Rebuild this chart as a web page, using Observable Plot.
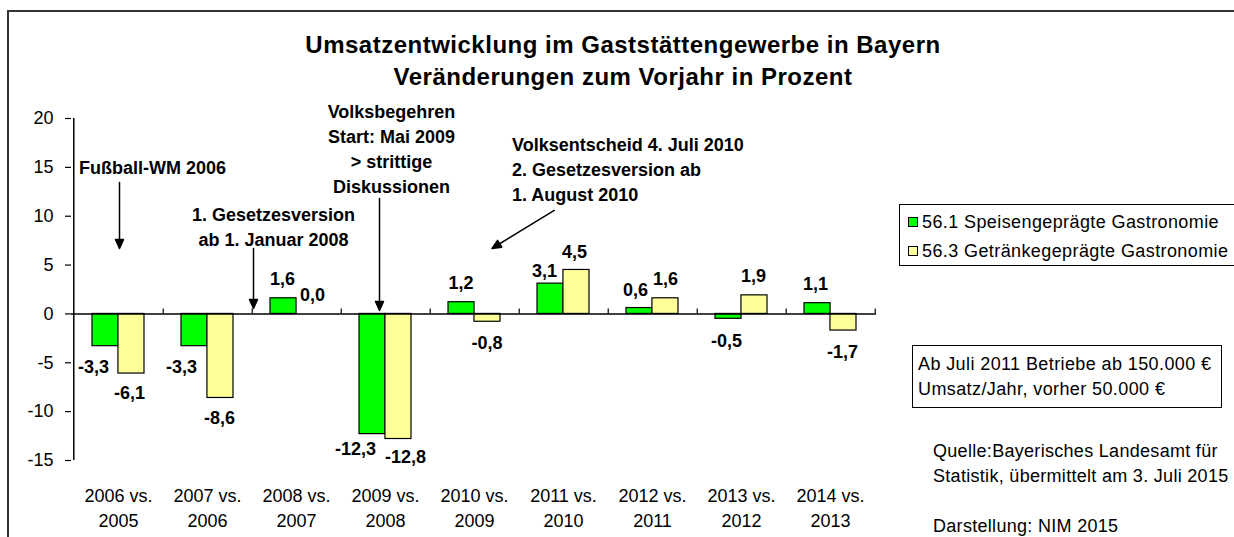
<!DOCTYPE html>
<html><head><meta charset="utf-8">
<script src="https://cdn.jsdelivr.net/npm/d3@7"></script>
<script src="https://cdn.jsdelivr.net/npm/@observablehq/plot@0.6"></script>
<style>
body{margin:0;background:#fff;font-family:"Liberation Sans",Arial,sans-serif;color:#000}
#wrap{position:relative;width:1234px;height:537px;overflow:hidden;background:#fff}
#chart{position:absolute;left:0;top:0}
#frame{position:absolute;left:7px;top:10px;width:1300px;height:600px;border:2px solid #333;pointer-events:none}
#title{position:absolute;left:0;top:29px;width:1246px;text-align:center;font-weight:bold;font-size:24px;line-height:32px;letter-spacing:0.5px}
#legend{position:absolute;left:899px;top:204px;width:400px;height:60px;border:1.5px solid #000}
.lrow{position:absolute;left:908px;height:24px;line-height:24px;font-size:18px;letter-spacing:0.4px;white-space:nowrap}
.sw{display:inline-block;width:8px;height:8px;border:1px solid #000;margin-right:4px;vertical-align:1px}
#note{position:absolute;left:912px;top:345px;width:303px;height:55px;border:1.5px solid #000;padding:6px 0 0 5px;line-height:25px;font-size:18px;letter-spacing:0.4px;white-space:nowrap}
#source{position:absolute;left:933px;top:439px;line-height:25px;font-size:18px;letter-spacing:0.3px;white-space:nowrap}
</style></head>
<body>
<div id="wrap">
  <div id="chart"></div>
  <div id="title"></div>
  <div id="legend"></div>
  <div id="note"></div>
  <div id="source"></div>
  <div id="frame"></div>
</div>
<script>
// ---- data ----
const categories = ["2006 vs.\n2005","2007 vs.\n2006","2008 vs.\n2007","2009 vs.\n2008","2010 vs.\n2009","2011 vs.\n2010","2012 vs.\n2011","2013 vs.\n2012","2014 vs.\n2013"];
const seriesNames = ["56.1 Speisengeprägte Gastronomie","56.3 Getränkegeprägte Gastronomie"];
const speisen   = [-3.3, -3.3, 1.6, -12.3, 1.2, 3.1, 0.6, -0.5, 1.1];
const getraenke = [-6.1, -8.6, 0.0, -12.8, -0.8, 4.5, 1.6, 1.9, -1.7];
const seriesColors = ["#00ff00", "#ffff99"];
const yTicks = [-15, -10, -5, 0, 5, 10, 15, 20];
const titleLines = ["Umsatzentwicklung im Gaststättengewerbe in Bayern", "Veränderungen zum Vorjahr in Prozent"];
const noteLines = ["Ab Juli 2011 Betriebe ab 150.000 €", "Umsatz/Jahr, vorher 50.000 €"];
const sourceLines = ["Quelle:Bayerisches Landesamt für", "Statistik, übermittelt am 3. Juli 2015", "", "Darstellung: NIM 2015"];
// annotations (category index, value, text)
const annotationTexts = [
  {i: 0, y: 15.1, text: "Fußball-WM 2006", dx: 34, anchor: "middle"},
  {i: 2, y: 9.0,  text: "1. Gesetzesversion\nab 1. Januar 2008", dx: -23, anchor: "middle"},
  {i: 3, y: 17.0, text: "Volksbegehren\nStart: Mai 2009\n> strittige\nDiskussionen", dx: 6, anchor: "middle"},
  {i: 4, y: 14.9, text: "Volksentscheid 4. Juli 2010\n2. Gesetzesversion ab\n1. August 2010", dx: 37.5, anchor: "start"}
];
const annotationArrows = [
  {i: 0, y: 6.7,  dx: 1,    len: 66,  rot: 180},
  {i: 2, y: 0.55, dx: -43,  len: 60,  rot: 180},
  {i: 3, y: 0.35, dx: -6,   len: 112, rot: 180},
  {i: 4, y: 6.7,  dx: 17.5, len: 73,  rot: 238.5}
];

// ---- layout ----
const W = 1234, H = 537, mL = 71, mR = 358, mT = 118, mB = 77;
const step = (W - mL - mR) / categories.length;
const padInner = 0.42;
const half = step * (1 - padInner) / 2;
// value-label nudges (pixels, relative to the category centre / bar end)
const greenLabelDx  = [-25, -26, -14, -30, -13.5, -19, -17, -15, -15];
const greenLabelDy  = [21, 21, -19, 15.5, -19, -12, -17.5, 22, -19];
const yellowLabelDx = [11, 12, 16, 20, 12.5, 11, 13, 12, 12];
const yellowLabelDy = [20, 20.5, -19, 18.5, 21, -17.5, -19, -19, 22];
const fmt = v => v.toFixed(1).replace(".", ",");

const rows = categories.flatMap((c, i) => [
  {cat: c, s: 0, v: speisen[i]},
  {cat: c, s: 1, v: getraenke[i]}
]);
const g = rows.filter(d => d.s === 0), y = rows.filter(d => d.s === 1);

const arrowShape = {
  draw(context, l) {
    const h = 9, w = 4;
    context.moveTo(0, 0);
    context.lineTo(0, -l + h);
    context.moveTo(-w, -l + h);
    context.lineTo(0, -l);
    context.lineTo(w, -l + h);
    context.closePath();
  }
};

const labelStyle = {fontSize: 18, fontWeight: "bold", fill: "black"};

const plot = Plot.plot({
  width: W, height: H,
  marginLeft: mL, marginRight: mR, marginTop: mT, marginBottom: mB,
  style: {fontFamily: "'Liberation Sans', Arial, sans-serif", fontSize: "18px", color: "black", background: "transparent", overflow: "visible"},
  x: {domain: categories, type: "band", paddingInner: padInner, paddingOuter: padInner / 2, axis: null},
  y: {domain: [-15, 20], axis: null},
  marks: [
    Plot.barY(g, {x: "cat", y: "v", fill: seriesColors[0], stroke: "black", strokeWidth: 1.2, insetRight: half}),
    Plot.barY(y, {x: "cat", y: "v", fill: seriesColors[1], stroke: "black", strokeWidth: 1.2, insetLeft: half}),
    Plot.ruleY([0], {stroke: "black", strokeWidth: 1.5}),
    Plot.ruleX([categories[0]], {dx: -step / 2, y1: -15, y2: 20, stroke: "black", strokeWidth: 1.5}),
    Plot.ruleX(categories, {dx: step / 2, y1: 0, y2: 0.5, stroke: "black", strokeWidth: 1.2}),
    Plot.axisY({ticks: yTicks, tickSize: 6, tickPadding: 12, tickFormat: d => String(d), fontSize: 18, label: null, stroke: "black", strokeWidth: 1.2}),
    Plot.axisX({anchor: "bottom", tickSize: 0, tickPadding: 24, fontSize: 18, lineHeight: 25 / 18, label: null}),
    // value labels
    ...g.map((d, i) => Plot.text([d], {x: "cat", y: "v", text: r => fmt(r.v), dx: greenLabelDx[i], dy: greenLabelDy[i], ...labelStyle})),
    ...y.map((d, i) => Plot.text([d], {x: "cat", y: "v", text: r => fmt(r.v), dx: yellowLabelDx[i], dy: yellowLabelDy[i], ...labelStyle})),
    // annotations
    ...annotationTexts.map(a => Plot.text([a], {x: d => categories[d.i], y: "y", text: "text", dx: a.dx, textAnchor: a.anchor, lineHeight: 25 / 18, ...labelStyle})),
    ...annotationArrows.map(a => Plot.vector([a], {x: d => categories[d.i], y: "y", dx: a.dx, length: a.len, rotate: a.rot, anchor: "end", shape: arrowShape, fill: "black", stroke: "black", strokeWidth: 1.5}))
  ]
});
document.getElementById("chart").appendChild(plot);

document.getElementById("title").innerHTML = titleLines.join("<br>");
const wrap = document.getElementById("wrap");
seriesNames.forEach((name, k) => {
  const row = document.createElement("div");
  row.className = "lrow";
  row.style.top = (222 + k * 29 - 12) + "px";
  row.innerHTML = `<span class="sw" style="background:${seriesColors[k]}"></span>${name}`;
  wrap.appendChild(row);
});
document.getElementById("note").innerHTML = noteLines.join("<br>");
document.getElementById("source").innerHTML = sourceLines.map(s => s || "&nbsp;").join("<br>");
</script>
</body></html>
